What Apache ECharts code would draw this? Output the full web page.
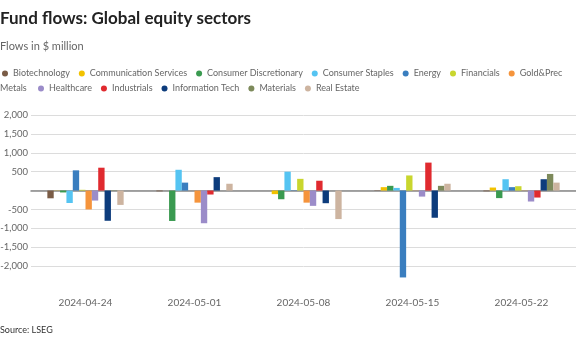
<!DOCTYPE html>
<html>
<head>
<meta charset="utf-8">
<script src="https://cdn.jsdelivr.net/npm/echarts@6/dist/echarts.min.js"></script>
<style>
html,body{margin:0;padding:0;background:#fff;}
#c{width:576px;height:338px;}
</style>
</head>
<body>
<div id="c"></div>
<script>
const categories = ['2024-04-24','2024-05-01','2024-05-08','2024-05-15','2024-05-22'];
const seriesNames = ['Biotechnology','Communication Services','Consumer Discretionary','Consumer Staples','Energy','Financials','Gold&Prec Metals','Healthcare','Industrials','Information Tech','Materials','Real Estate'];
const biotechnology = [-205, -20, 0, 10, -20];
const communication = [5, 0, -95, 90, 80];
const consumerDisc = [-50, -805, -230, 125, -200];
const consumerStaples = [-330, 550, 500, 70, 300];
const energy = [535, 210, 10, -2300, 90];
const financials = [20, 0, 310, 400, 115];
const goldPrec = [-500, -320, -320, 5, 5];
const healthcare = [-265, -865, -405, -160, -290];
const industrials = [605, -105, 260, 740, -185];
const infoTech = [-800, 355, -335, -720, 300];
const materials = [-10, 0, 0, 125, 440];
const realEstate = [-380, 180, -755, 180, 210];
const yTicks = [2000, 1500, 1000, 500, -500, -1000, -1500, -2000];

const values = [biotechnology, communication, consumerDisc, consumerStaples, energy, financials, goldPrec, healthcare, industrials, infoTech, materials, realEstate];
const colors = ['#7a5c46','#f2c200','#3a9a50','#55c4f2','#3a7ebf','#c9d62e','#f5943c','#9b8cc9','#e02a2f','#0d3c7c','#7d8a5b','#cdb4a0'];

const font = 'Lato, "Open Sans", sans-serif';
const shortName = n => n === 'Gold&Prec Metals' ? 'Gold&Prec' : n;

// fit first legend row into the same width as the reference (~546px)
const ctx = document.createElement('canvas').getContext('2d');
ctx.font = '100px Lato';
const row1 = seriesNames.slice(0, 7).map(shortName);
const unit = row1.reduce((s, t) => s + ctx.measureText(t).width / 100, 0);
const gap = 9, icon = 6;
let legendFs = (546 - row1.length * (icon + 5) - (row1.length - 1) * gap) / unit;
legendFs = Math.max(9, Math.min(11, legendFs));

const chart = echarts.init(document.getElementById('c'), null, {renderer:'canvas'});
const series = seriesNames.map((n, i) => ({
  name: n, type: 'bar', data: values[i],
  itemStyle: {color: colors[i]},
  barGap: '0%', barCategoryGap: '30%',
  emphasis: {disabled: true}
}));
const legendText = {fontSize: legendFs, color: '#666', fontFamily: font};
ctx.font = legendFs * 100 + 'px Lato';
const metalsW = ctx.measureText('Metals').width / 100;
chart.setOption({
  animation: false,
  color: colors,
  title: [
    {text: 'Fund flows: Global equity sectors', left: -5, top: 5,
     textStyle: {fontSize: 17, fontWeight: 'bold', color: '#222', fontFamily: font}},
    {text: 'Flows in $ million', left: -5, top: 36,
     textStyle: {fontSize: 11, fontWeight: 'normal', color: '#666', fontFamily: font}},
    {text: 'Source: LSEG', left: -5, top: 321,
     textStyle: {fontSize: 9, fontWeight: 'normal', color: '#333', fontFamily: font}}
  ],
  legend: [
    {data: seriesNames.slice(0, 7), left: -3, top: 64, icon: 'circle', itemWidth: icon, itemHeight: icon,
     itemGap: gap, width: 700, selectedMode: false, textStyle: legendText, formatter: shortName},
    {data: seriesNames.slice(7), left: Math.round(metalsW + 6), top: 79, icon: 'circle', itemWidth: icon, itemHeight: icon,
     itemGap: gap, width: 700, selectedMode: false, textStyle: legendText}
  ],
  graphic: [
    {type: 'text', left: 0, top: 84, style: {text: 'Metals', fontSize: legendFs, fill: '#666', fontFamily: font}}
  ],
  grid: {left: 31, right: 0, top: 115, bottom: 53, containLabel: false, outerBoundsMode: 'none'},
  xAxis: {
    type: 'category', data: categories,
    axisTick: {show: false},
    axisLine: {onZero: true, lineStyle: {color: '#888', width: 1.5}},
    axisLabel: {color: '#666', fontSize: 10, margin: 13, fontFamily: font}
  },
  yAxis: {
    type: 'value', min: -2500, max: 2000, interval: 500,
    axisLine: {show: false}, axisTick: {show: false},
    axisLabel: {color: '#666', fontSize: 9.5, margin: 3, fontFamily: font,
      formatter: v => yTicks.indexOf(v) >= 0 ? v.toLocaleString('en-US') : ''},
    splitLine: {lineStyle: {color: ['rgba(0,0,0,0)','#dcdcdc','#dcdcdc','#dcdcdc','#dcdcdc','#dcdcdc','#dcdcdc','#dcdcdc','#dcdcdc','#dcdcdc'], width: 1}}
  },
  series: series
});
</script>
</body>
</html>
